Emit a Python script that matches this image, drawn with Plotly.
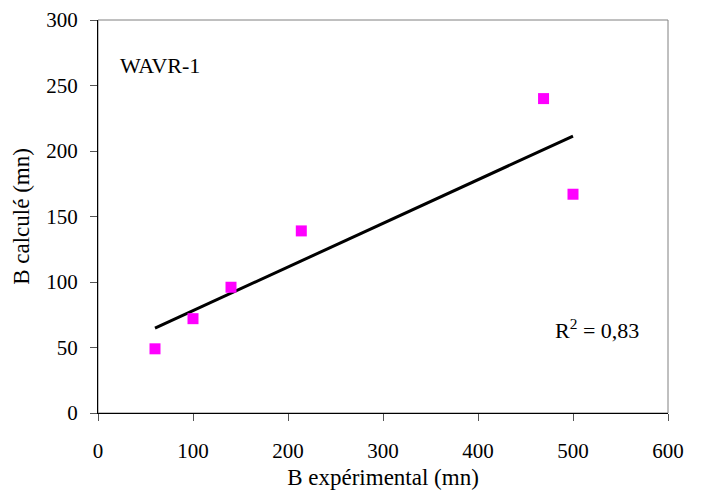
import numpy as np
import plotly.graph_objects as go

# Data
b_exp = [60, 100, 140, 214, 469, 500]
b_calc = [49, 72, 96, 139, 240, 167]
x_ticks = [0, 100, 200, 300, 400, 500, 600]
y_ticks = [0, 50, 100, 150, 200, 250, 300]
label_name = "WAVR-1"
r2_text = "R<sup>2</sup> = 0,83"

# Linear trendline computed from data
slope, intercept = np.polyfit(b_exp, b_calc, 1)
tx = [min(b_exp), max(b_exp)]
ty = [slope * v + intercept for v in tx]

FONT = "Liberation Serif, Times New Roman, serif"

fig = go.Figure()
fig.add_trace(go.Scatter(x=tx, y=ty, mode="lines",
                         line=dict(color="black", width=3), showlegend=False))
fig.add_trace(go.Scatter(x=b_exp, y=b_calc, mode="markers",
                         marker=dict(symbol="square", size=11, color="#FF00FF",
                                     line=dict(width=0)),
                         showlegend=False))

fig.add_shape(type="rect", xref="paper", yref="paper", x0=0, y0=0, x1=1, y1=1,
              line=dict(color="#808080", width=1), layer="below")

fig.add_annotation(x=0.035, y=0.885, xref="paper", yref="paper", text=label_name,
                   showarrow=False, xanchor="left", yanchor="middle",
                   font=dict(family=FONT, size=22, color="black"))
fig.add_annotation(x=0.952, y=0.215, xref="paper", yref="paper", text=r2_text,
                   showarrow=False, xanchor="right", yanchor="middle",
                   font=dict(family=FONT, size=22, color="black"))

fig.update_layout(
    width=704, height=500,
    margin=dict(l=90, r=44, t=12, b=95),
    paper_bgcolor="white", plot_bgcolor="white",
    font=dict(family=FONT, size=21, color="black"),
    xaxis=dict(range=[0, 600], tickvals=x_ticks, showgrid=False, zeroline=False,
               showline=True, linecolor="black", linewidth=1,
               ticks="outside", ticklen=7, tickcolor="#555555",
               ticklabelstandoff=12, automargin=False,
               ticklabeloverflow="allow",
               tickfont=dict(family=FONT, size=21),
               title=dict(text="B expérimental (mn)", standoff=6,
                          font=dict(family=FONT, size=23))),
    yaxis=dict(range=[0, 300], tickvals=y_ticks, showgrid=False, zeroline=False,
               showline=True, linecolor="black", linewidth=1,
               ticks="outside", ticklen=7, tickcolor="#555555",
               ticklabelstandoff=8, automargin=False,
               ticklabeloverflow="allow",
               tickfont=dict(family=FONT, size=21),
               title=dict(text="B calculé (mn)", standoff=10,
                          font=dict(family=FONT, size=23))),
)

fig.write_html("out.html")
